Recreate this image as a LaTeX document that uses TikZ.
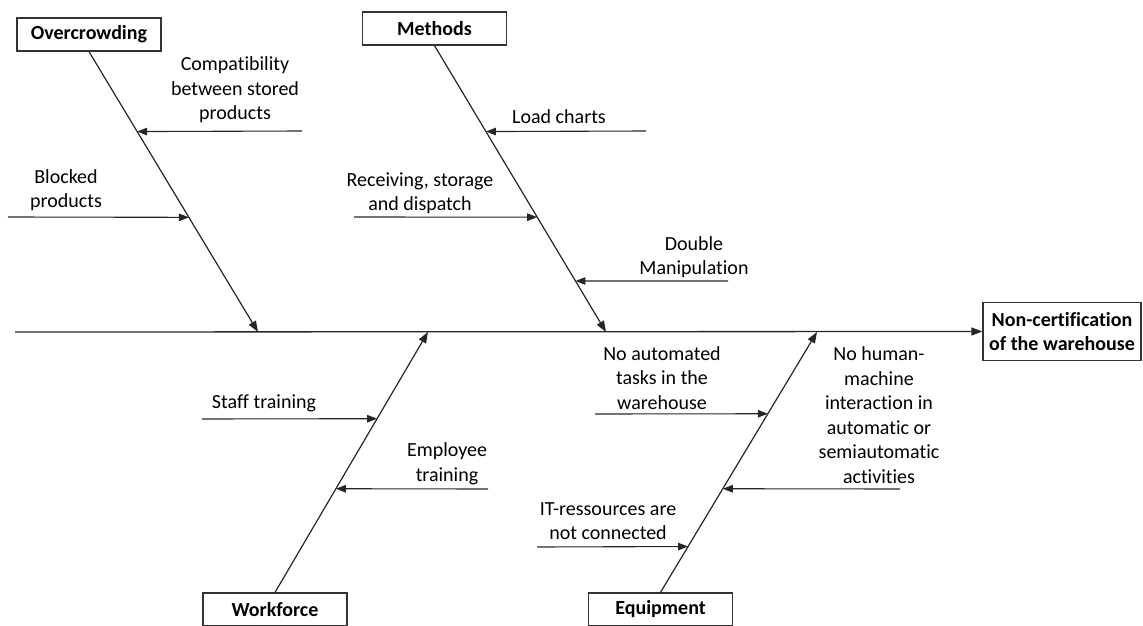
\documentclass[tikz,border=0pt]{standalone}
\usepackage{fontspec}
\setmainfont{Carlito}[Ligatures={NoCommon}]
\usetikzlibrary{arrows.meta,calc}
\newcommand{\dfont}{\fontsize{20}{24.5}\selectfont}
\tikzset{
  cause/.style={draw=black!80, line width=1.3pt, fill=white, font=\dfont\bfseries, minimum width=144pt, minimum height=33pt, inner sep=2pt},
  effect/.style={draw=black!80, line width=1.3pt, fill=white, font=\dfont\bfseries, align=center, minimum width=158pt, minimum height=58pt, inner sep=2pt},
  lbl/.style={align=center, inner sep=0pt, font=\dfont},
  bone/.style={draw=black!85, line width=1.2pt, -{Triangle[length=11pt,width=8pt]}},
  sub/.style={draw=black!85, line width=1.1pt, -{Triangle[length=10pt,width=7.5pt]}},
  spine/.style={draw=black!85, line width=1.3pt, -{Triangle[length=11pt,width=8pt]}}
}
\begin{document}
\begin{tikzpicture}[x=1pt,y=-1pt]
\useasboundingbox (0,0) rectangle (1143,626);
% effect and main causes
\node[effect] (nc) at (1062,331.5) {Non-certification\\of the warehouse};
\node[cause] (oc) at (89,34.5) {Overcrowding};
\node[cause] (me) at (434.5,28.5) {Methods};
\node[cause] (wf) at (275,609.5) {Workforce};
\node[cause] (eq) at (660.5,609.5) {Equipment};
% spine
\coordinate (s0) at (15,332);
\draw[spine] (s0) -- (nc.west);
% bone ends
\coordinate (oe) at (258,332);
\coordinate (mee) at (606,332);
\coordinate (wfe) at (428,332);
\coordinate (eqe) at (817,332);
\draw[bone] (oc.south) -- (oe);
\draw[bone] (me.south) -- (mee);
\draw[bone] (wf.north) -- (wfe);
\draw[bone] (eq.north) -- (eqe);
% sub-cause starts
\coordinate (c1) at (302,131);
\coordinate (c2) at (8,217);
\coordinate (c3) at (646,131);
\coordinate (c4) at (354,217);
\coordinate (c5) at (728,281);
\coordinate (c6) at (202,419);
\coordinate (c7) at (488,489);
\coordinate (c8) at (595,414);
\coordinate (c9) at (900,489);
\coordinate (c10) at (537,547);
% sub-cause arrows
\draw[sub] (c1) -- ($(oc.south)!0.285!(oe)$);
\draw[sub] (c2) -- ($(oc.south)!0.591!(oe)$);
\draw[sub] (c3) -- ($(me.south)!0.300!(mee)$);
\draw[sub] (c4) -- ($(me.south)!0.599!(mee)$);
\draw[sub] (c5) -- ($(me.south)!0.822!(mee)$);
\draw[sub] (c6) -- ($(wf.north)!0.667!(wfe)$);
\draw[sub] (c7) -- ($(wf.north)!0.398!(wfe)$);
\draw[sub] (c8) -- ($(eq.north)!0.686!(eqe)$);
\draw[sub] (c9) -- ($(eq.north)!0.398!(eqe)$);
\draw[sub] (c10) -- ($(eq.north)!0.176!(eqe)$);
% labels
\node[lbl] (l1) at (235,90) {Compatibility\\between stored\\products};
\node[lbl] (l2) at (66,190) {Blocked\\products};
\node[lbl] (l3) at (559,117) {Load charts};
\node[lbl] (l4) at (420,193) {Receiving, storage\\and dispatch};
\node[lbl] (l5) at (694,257) {Double\\Manipulation};
\node[lbl] (l6) at (264,403) {Staff training};
\node[lbl] (l7) at (447,464) {Employee\\training};
\node[lbl] (l8) at (662,378) {No automated\\tasks in the\\warehouse};
\node[lbl] (l9) at (879,415) {No human-\\machine\\interaction in\\automatic or\\semiautomatic\\activities};
\node[lbl] (l10) at (608,521) {IT-ressources are\\not connected};
\end{tikzpicture}
\end{document}
